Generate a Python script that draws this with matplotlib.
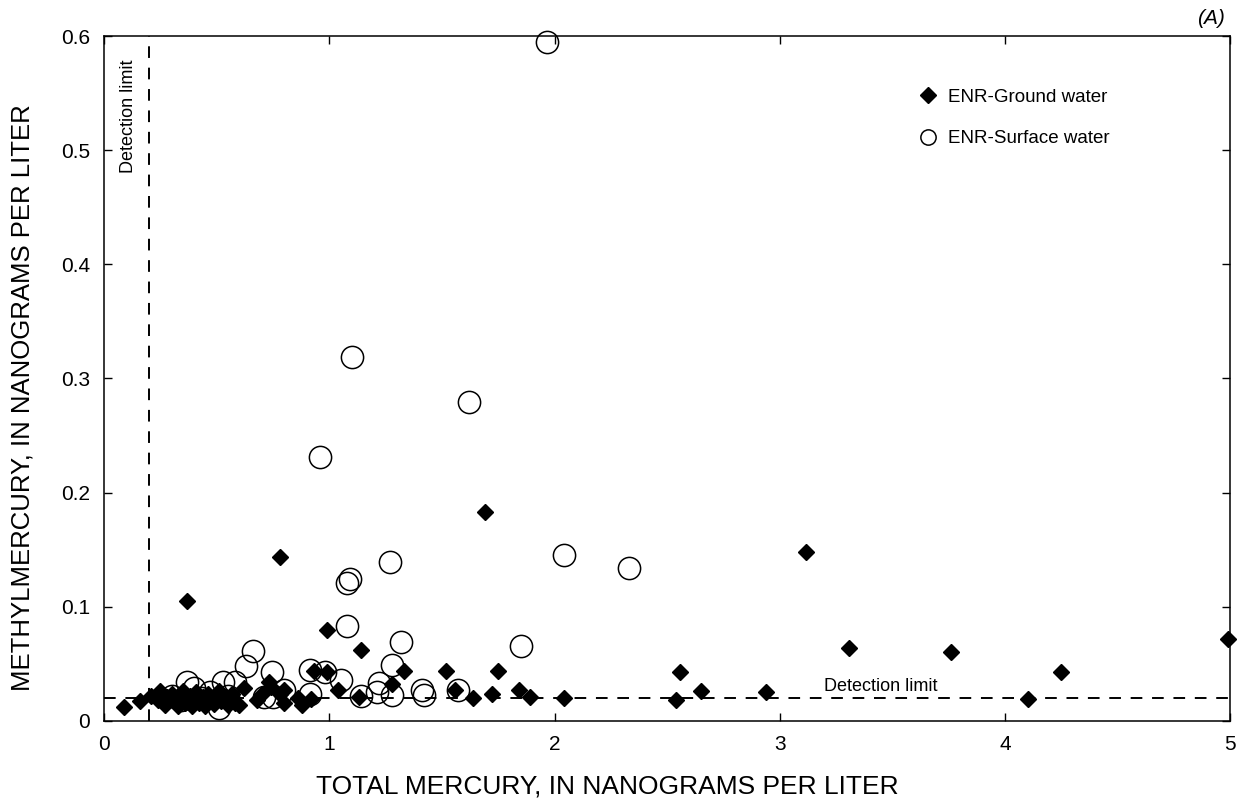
import matplotlib
matplotlib.use("Agg")
import matplotlib.pyplot as plt
from matplotlib.lines import Line2D

plt.rcParams['font.family'] = ['Liberation Sans', 'DejaVu Sans']

# ENR ground water (diamonds)
gw_x = [0.09, 0.16, 0.21, 0.24, 0.25, 0.27, 0.28, 0.30, 0.31, 0.33, 0.34, 0.35, 0.36,
        0.38, 0.39, 0.40, 0.41, 0.42, 0.44, 0.45, 0.46, 0.47, 0.49, 0.50, 0.51, 0.52,
        0.54, 0.55, 0.57, 0.58, 0.60, 0.62, 0.37, 0.68, 0.70, 0.73, 0.74, 0.78, 0.78,
        0.80, 0.80, 0.86, 0.88, 0.92, 0.93, 0.99, 0.99, 1.04, 1.13, 1.14, 1.28, 1.33,
        1.52, 1.56, 1.64, 1.69, 1.72, 1.75, 1.84, 1.89, 2.04, 2.54, 2.555, 2.65, 2.94,
        3.115, 3.305, 3.76, 4.10, 4.25, 4.99]
gw_y = [0.012, 0.017, 0.022, 0.018, 0.026, 0.014, 0.021, 0.024, 0.017, 0.013, 0.020, 0.026, 0.016,
        0.022, 0.013, 0.019, 0.025, 0.016, 0.021, 0.013, 0.024, 0.018, 0.015, 0.022, 0.026, 0.017,
        0.021, 0.014, 0.024, 0.016, 0.014, 0.029, 0.105, 0.018, 0.024, 0.034, 0.030, 0.024, 0.144,
        0.016, 0.027, 0.020, 0.014, 0.019, 0.044, 0.043, 0.080, 0.027, 0.021, 0.062, 0.032, 0.044,
        0.044, 0.027, 0.020, 0.183, 0.024, 0.044, 0.027, 0.021, 0.020, 0.018, 0.043, 0.026, 0.025,
        0.148, 0.064, 0.060, 0.019, 0.043, 0.072]

# ENR surface water (open circles)
sw_x = [0.30, 0.34, 0.37, 0.40, 0.43, 0.47, 0.51, 0.53, 0.55, 0.58, 0.63, 0.66, 0.71,
        0.745, 0.75, 0.80, 0.915, 0.915, 0.98, 1.05, 1.08, 1.08, 1.09, 1.10, 0.96, 1.14,
        1.21, 1.22, 1.27, 1.28, 1.28, 1.32, 1.41, 1.42, 1.57, 1.62, 1.85, 1.965, 2.04, 2.33]
sw_y = [0.022, 0.018, 0.034, 0.029, 0.020, 0.025, 0.011, 0.034, 0.022, 0.034, 0.048, 0.061, 0.021,
        0.043, 0.021, 0.027, 0.045, 0.024, 0.043, 0.036, 0.083, 0.121, 0.124, 0.319, 0.231, 0.022,
        0.025, 0.033, 0.139, 0.049, 0.023, 0.069, 0.027, 0.023, 0.027, 0.279, 0.066, 0.595, 0.145, 0.134]

x_ticks = [0, 1, 2, 3, 4, 5]
y_ticks = [0, 0.1, 0.2, 0.3, 0.4, 0.5, 0.6]
y_tick_labels = ['0', '0.1', '0.2', '0.3', '0.4', '0.5', '0.6']

detection_x = 0.2
detection_y = 0.02

fig = plt.figure(figsize=(12.39, 8.01), dpi=100)
ax = fig.add_axes([0.084, 0.100, 0.909, 0.855])

# detection limits
ax.axvline(detection_x, color='black', lw=1.4, ls=(0, (6, 5)), zorder=1)
ax.axhline(detection_y, color='black', lw=1.4, ls=(0, (6, 5)), zorder=1)
ax.text(0.107, 0.53, 'Detection limit', rotation=90, ha='center', va='center', fontsize=13)
ax.text(3.45, 0.0225, 'Detection limit', ha='center', va='bottom', fontsize=13)

ax.plot(gw_x, gw_y, ls='none', marker='D', ms=8.3, color='black', zorder=3, clip_on=False)
ax.plot(sw_x, sw_y, ls='none', marker='o', ms=16, mfc='none', mec='black', mew=1.1,
        zorder=4, clip_on=False)

ax.set_xlim(0, 5)
ax.set_ylim(0, 0.6)
ax.set_xticks(x_ticks)
ax.set_yticks(y_ticks)
ax.set_yticklabels(y_tick_labels)
ax.tick_params(direction='in', length=6, width=1, top=True, right=True, labelsize=15, pad=10)
for s in ax.spines.values():
    s.set_linewidth(1.1)

# axis titles sit slightly off the axes centre in the original
fig.text(0.49, 0.018, 'TOTAL MERCURY, IN NANOGRAMS PER LITER', fontsize=19,
         ha='center', va='center')
fig.text(0.018, 0.504, 'METHYLMERCURY, IN NANOGRAMS PER LITER', fontsize=18.5,
         ha='center', va='center', rotation=90)

handles = [Line2D([], [], ls='none', marker='D', ms=8, color='black'),
           Line2D([], [], ls='none', marker='o', ms=11, mfc='none', mec='black', mew=1.1)]
ax.legend(handles, ['ENR-Ground water', 'ENR-Surface water'], loc='upper left',
          bbox_to_anchor=(0.70, 0.948), frameon=False, fontsize=13.5, handletextpad=0.05,
          labelspacing=1.3)

ax.text(0.995, 1.012, '(A)', transform=ax.transAxes, ha='right', va='bottom',
        fontsize=15, style='italic')

fig.savefig('out.png', dpi=100)
